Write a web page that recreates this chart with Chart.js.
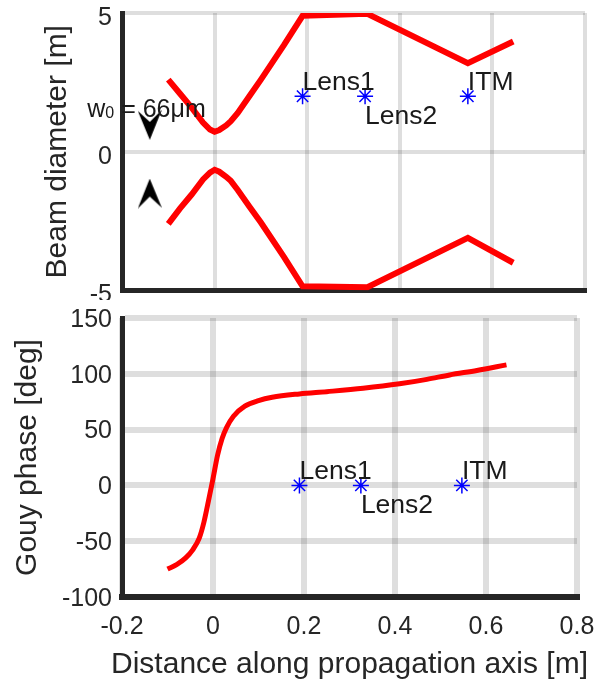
<!DOCTYPE html>
<html>
<head>
<meta charset="utf-8">
<script src="https://cdn.jsdelivr.net/npm/chart.js@4.4.1/dist/chart.umd.min.js"></script>
<style>
  html, body { margin: 0; padding: 0; background: #fff; }
  #wrap { width: 602px; height: 683px; position: relative; }
  canvas { position: absolute; left: 0; }
  #beamChart { top: 0; }
  #gouyChart { top: 300px; }
</style>
</head>
<body>
<div id="wrap">
  <canvas id="beamChart" width="602" height="300"></canvas>
  <canvas id="gouyChart" width="602" height="383"></canvas>
</div>
<script>
// values
const beamZ     = [-0.1, -0.075, -0.05, -0.025, -0.01, 0, 0.01, 0.025, 0.035, 0.05, 0.075, 0.1, 0.15, 0.19, 0.33, 0.547, 0.645];
const beamUpper = [2.6, 2.1, 1.6, 1.05, 0.8, 0.72, 0.78, 0.95, 1.1, 1.4, 2.0, 2.6, 3.85, 4.9, 4.97, 3.19, 3.97];
const beamLower = [-2.6, -2.05, -1.55, -1.0, -0.75, -0.65, -0.72, -0.9, -1.05, -1.38, -1.97, -2.55, -3.8, -4.85, -4.88, -3.1, -4.0];

const gouyZ   = [-0.1, -0.08, -0.06, -0.045, -0.03, -0.02, -0.01, 0, 0.01, 0.02, 0.03, 0.045, 0.07, 0.1, 0.13, 0.19, 0.25, 0.33, 0.41, 0.47, 0.52, 0.58, 0.645];
const gouyDeg = [-75, -71, -65, -58, -47, -33, -14, 6, 27, 42, 52, 62, 71, 76, 79, 82, 84, 87, 91, 95, 99, 103, 108];

const opticNames = ['Lens1', 'Lens2', 'ITM'];
const opticZ     = [0.19, 0.325, 0.547];
const opticBeamY = [2, 2, 2];
const opticGouyY = [0, 0, 0];

// waist annotation
const waistArrowZ = [-0.14, -0.14];
const waistArrowY = [0.97, -1.51];
const waistLabelZ = -0.275;
const waistLabelY = 1.25;

const distTicks = [-0.2, 0, 0.2, 0.4, 0.6, 0.8];
const beamTicks = [-5, 0, 5];
const gouyTicks = [-100, -50, 0, 50, 100, 150];
const distTitle = 'Distance along propagation axis [m]';

const FONT = '"Liberation Sans", Arial, sans-serif';
const TEXT = '#262626';

const xy = (xs, ys) => xs.map((x, i) => ({ x, y: ys[i] }));
const fixTicks = list => scale => { scale.ticks = list.map(v => ({ value: v })); };
const fmt = v => String(Math.round(v * 10) / 10);

function makeArrowHead() {
    const c = document.createElement('canvas');
    c.width = 24;
    c.height = 30;
    const g = c.getContext('2d');
    g.fillStyle = '#000';
    g.beginPath();
    g.moveTo(12, 30);
    g.lineTo(0, 1);
    g.lineTo(12, 12);
    g.lineTo(24, 0);
    g.closePath();
    g.fill();
    return c;
}

// text next to each optic marker
const opticLabels = {
    id: 'opticLabels',
    afterDatasetsDraw(chart, args, opts) {
        const { ctx, scales: { x, y } } = chart;
        ctx.save();
        ctx.font = '26.5px ' + FONT;
        ctx.fillStyle = '#1a1a1a';
        ctx.textAlign = 'left';
        ctx.textBaseline = 'alphabetic';
        opticNames.forEach((name, i) => {
            const px = x.getPixelForValue(opticZ[i]);
            const py = y.getPixelForValue(opts.level);
            // Lens2 label sits under its marker, the others above
            ctx.fillText(name, px, py + (i === 1 ? 28 : -6));
        });
        ctx.restore();
    }
};

const waistLabel = {
    id: 'waistLabel',
    afterDatasetsDraw(chart) {
        const { ctx, scales: { x, y } } = chart;
        let px = x.getPixelForValue(waistLabelZ);
        const py = y.getPixelForValue(waistLabelY);
        ctx.save();
        ctx.fillStyle = '#1a1a1a';
        ctx.textAlign = 'left';
        ctx.textBaseline = 'alphabetic';
        ctx.font = '25px ' + FONT;
        ctx.fillText('w', px, py);
        px += ctx.measureText('w').width;
        ctx.font = '16px ' + FONT;
        ctx.fillText('0', px, py + 1);
        px += ctx.measureText('0').width;
        ctx.font = '25px ' + FONT;
        ctx.fillText(' = 66\u03bcm', px, py);
        ctx.restore();
    }
};

// the built-in axis title gets squeezed to the plot width, so draw it here
const xAxisTitle = {
    id: 'xAxisTitle',
    afterDraw(chart) {
        const { ctx, chartArea } = chart;
        ctx.save();
        ctx.font = '30px ' + FONT;
        ctx.fillStyle = TEXT;
        ctx.textAlign = 'center';
        ctx.textBaseline = 'middle';
        ctx.fillText(distTitle, (chartArea.left + chartArea.right) / 2, chart.height - 18);
        ctx.restore();
    }
};

function xScale(showLabels) {
    return {
        min: -0.2, max: 0.8,
        afterBuildTicks: fixTicks(distTicks),
        afterFit: s => {
            s.height = showLabels ? 86 : 0;
            s.paddingLeft = 0;
            s.paddingRight = 0;
        },
        grid: { color: 'rgba(0,0,0,0.13)', lineWidth: showLabels ? 6 : 4, drawTicks: false },
        border: { display: true, color: TEXT, width: showLabels ? 6 : 5 },
        ticks: {
            display: showLabels, padding: 15, color: TEXT,
            font: { family: FONT, size: 25 }, callback: fmt
        }
    };
}

function yScale(min, max, ticks, label, titlePad, gridWidth, labelOffset) {
    return {
        min, max,
        afterBuildTicks: fixTicks(ticks),
        afterFit: s => {
            s.width = 122;
            s.paddingTop = 0;
            s.paddingBottom = 0;
        },
        grid: { color: 'rgba(0,0,0,0.13)', lineWidth: gridWidth, drawTicks: false },
        border: { display: true, color: TEXT, width: 5 },
        ticks: {
            padding: 10, color: TEXT, labelOffset,
            font: { family: FONT, size: 25 }, callback: fmt
        },
        title: {
            display: true, text: label, color: TEXT,
            font: { family: FONT, size: 30 }, padding: { top: titlePad, bottom: 0 }
        }
    };
}

const common = {
    responsive: false,
    animation: false,
    plugins: { legend: { display: false }, tooltip: { enabled: false } }
};

// Beam diameter panel
new Chart(document.getElementById('beamChart'), {
    type: 'scatter',
    data: {
        datasets: [
            { data: xy(beamZ, beamUpper), showLine: true, borderColor: '#ff0000', borderWidth: 6, pointRadius: 0, tension: 0 },
            { data: xy(beamZ, beamLower), showLine: true, borderColor: '#ff0000', borderWidth: 6, pointRadius: 0, tension: 0 },
            { data: xy(opticZ, opticBeamY), pointStyle: 'star', pointRadius: 8, borderColor: '#0000ff', backgroundColor: '#0000ff', borderWidth: 1.5, clip: false },
            { data: xy(waistArrowZ, waistArrowY), pointStyle: makeArrowHead(), pointRotation: [0, 180], pointRadius: 5, clip: false }
        ]
    },
    options: {
        ...common,
        layout: { padding: { left: 0, right: 17, top: 13, bottom: 9 } },
        scales: {
            x: xScale(false),
            y: yScale(-5, 5, beamTicks, 'Beam diameter [m]', 40, 4, 5)
        },
        plugins: { ...common.plugins, opticLabels: { level: 2 } }
    },
    plugins: [opticLabels, waistLabel]
});

// Gouy phase panel
new Chart(document.getElementById('gouyChart'), {
    type: 'scatter',
    data: {
        datasets: [
            { data: xy(gouyZ, gouyDeg), showLine: true, borderColor: '#ff0000', borderWidth: 5, pointRadius: 0, cubicInterpolationMode: 'monotone' },
            { data: xy(opticZ, opticGouyY), pointStyle: 'star', pointRadius: 8, borderColor: '#0000ff', backgroundColor: '#0000ff', borderWidth: 1.5, clip: false }
        ]
    },
    options: {
        ...common,
        layout: { padding: { left: 0, right: 25, top: 18, bottom: 0 } },
        scales: {
            x: xScale(true),
            y: yScale(-100, 150, gouyTicks, 'Gouy phase [deg]', 10, 6, 2)
        },
        plugins: { ...common.plugins, opticLabels: { level: 0 } }
    },
    plugins: [opticLabels, xAxisTitle]
});
</script>
</body>
</html>
